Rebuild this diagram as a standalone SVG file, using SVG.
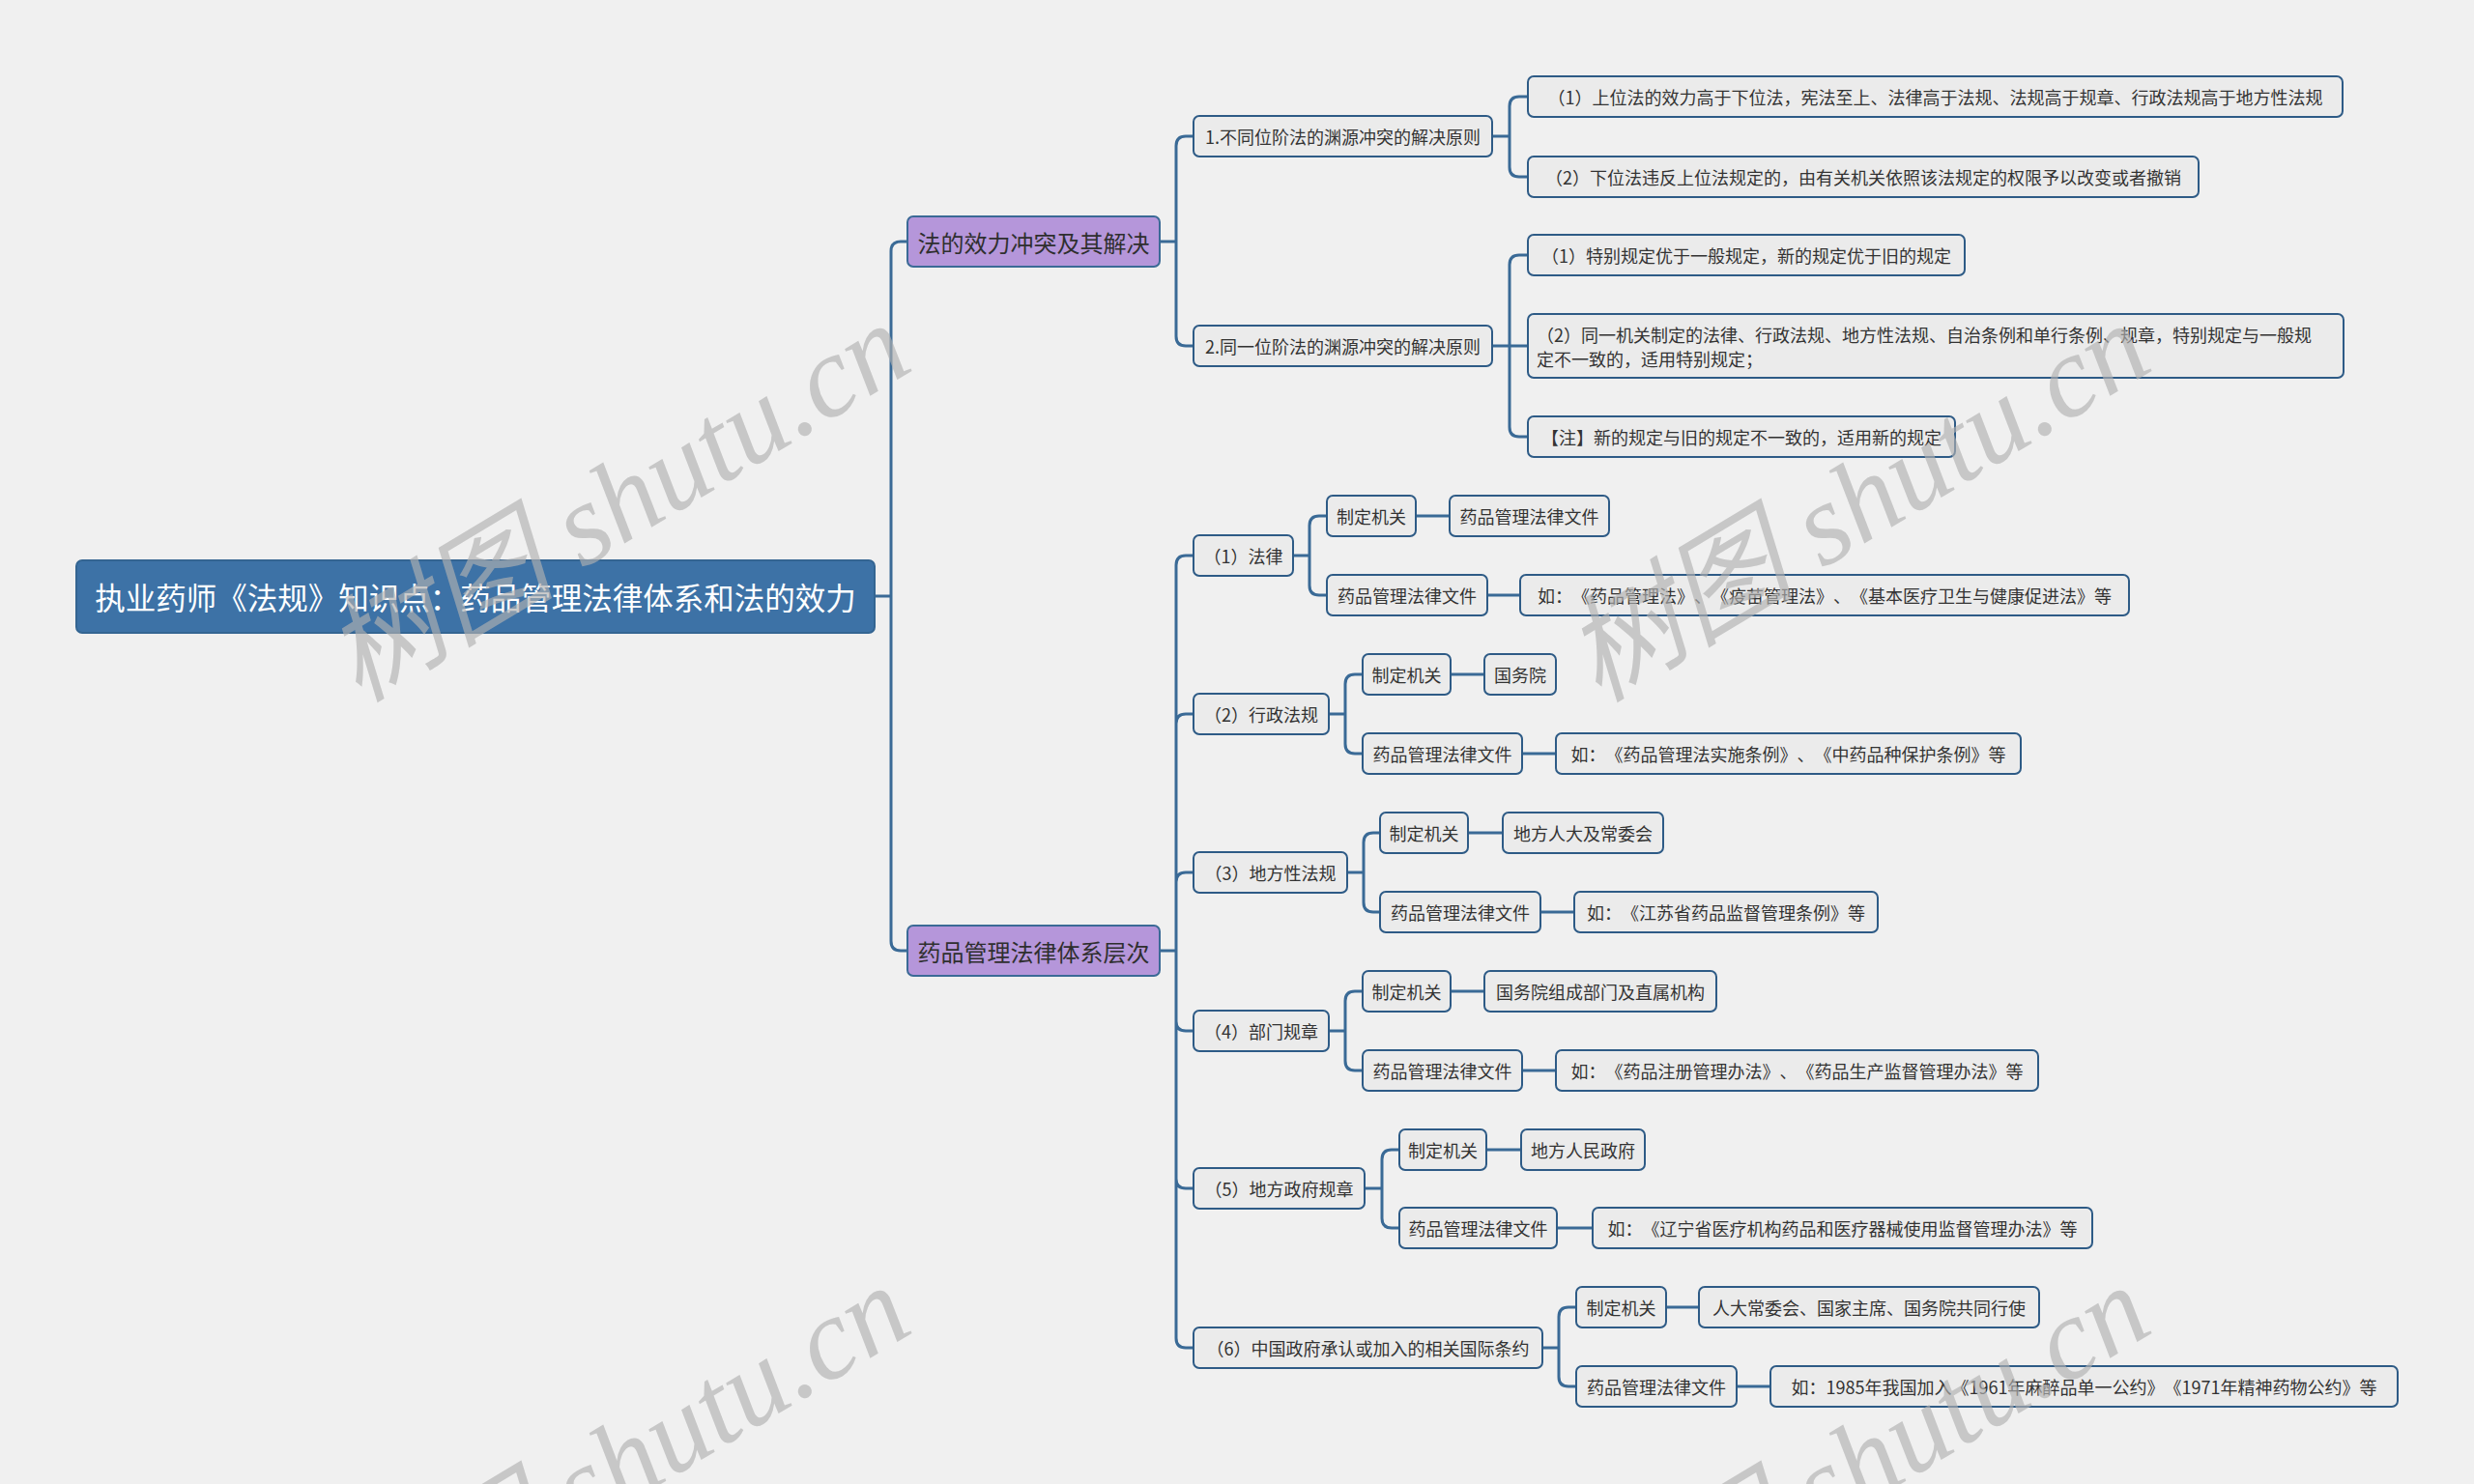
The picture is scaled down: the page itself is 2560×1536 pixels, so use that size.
<svg xmlns="http://www.w3.org/2000/svg" width="2560" height="1536" viewBox="0 0 2560 1536">
<style>
.bg{fill:#f0f0f0}
.root rect{fill:#3d72a6;stroke:#346592;stroke-width:2}
.root text{fill:#ffffff;font-size:31.5px}
.l1 rect{fill:#b596da;stroke:#3b6a96;stroke-width:2}
.l1 text{fill:#2f2f2f;font-size:24px}
.n rect{fill:#ebebeb;stroke:#2e5b86;stroke-width:2}
.n text{fill:#333333;font-size:18px}
text{font-family:"Noto Sans CJK SC","Noto Sans",sans-serif;dominant-baseline:central;text-anchor:middle;text-spacing-trim:space-all}
.c path{fill:none;stroke:#3a6a96;stroke-width:3;stroke-linecap:round}
.wm{font-family:"Liberation Serif","Noto Sans CJK SC",serif;font-style:italic;font-size:120px;fill:#b0b0b0;fill-opacity:0.65;dominant-baseline:auto}
</style>
<rect class="bg" x="0" y="0" width="2560" height="1536"/>

<g id="connectors" class="c">
<path d="M905 617H922M922 617V260Q922 250 932 250H939M922 617V974Q922 984 932 984H939"/>
<path d="M1200 250H1217M1217 250V151Q1217 141 1227 141H1235M1217 250V348Q1217 358 1227 358H1235"/>
<path d="M1544 141H1562M1562 141V110Q1562 100 1572 100H1581M1562 141V173Q1562 183 1572 183H1581"/>
<path d="M1544 358H1581M1562 358V274Q1562 264 1572 264H1581M1562 358V442Q1562 452 1572 452H1581"/>
<path d="M1200 984H1217M1217 984V585Q1217 575 1227 575H1235M1217 984V749Q1217 739 1227 739H1235M1217 984V913Q1217 903 1227 903H1235M1217 984V1057Q1217 1067 1227 1067H1235M1217 984V1220Q1217 1230 1227 1230H1235M1217 984V1385Q1217 1395 1227 1395H1235"/>
<path d="M1338 575H1355M1355 575V544Q1355 534 1365 534H1373M1355 575V606Q1355 616 1365 616H1373M1465 534H1500M1539 616H1573"/>
<path d="M1375 739H1392M1392 739V708Q1392 698 1402 698H1410M1392 739V770Q1392 780 1402 780H1410M1501 698H1536M1575 780H1610"/>
<path d="M1394 903H1411M1411 903V872Q1411 862 1421 862H1428M1411 903V934Q1411 944 1421 944H1428M1519 862H1555M1594 944H1629"/>
<path d="M1375 1067H1392M1392 1067V1036Q1392 1026 1402 1026H1410M1392 1067V1098Q1392 1108 1402 1108H1410M1501 1026H1536M1575 1108H1610"/>
<path d="M1412 1230H1430M1430 1230V1200Q1430 1190 1440 1190H1448M1430 1230V1261Q1430 1271 1440 1271H1448M1538 1190H1574M1611 1271H1648"/>
<path d="M1596 1395H1613M1613 1395V1363Q1613 1353 1623 1353H1631M1613 1395V1425Q1613 1435 1623 1435H1631M1724 1353H1758M1797 1435H1832"/>
</g>

<g id="root" class="root"><rect x="79" y="580" width="826" height="75" rx="6"/><text x="492" y="617">执业药师《法规》知识点：药品管理法律体系和法的效力</text></g>

<g id="l1a" class="l1"><rect x="939" y="224" width="261" height="52" rx="6"/><text x="1069.5" y="250">法的效力冲突及其解决</text></g>
<g id="l1b" class="l1"><rect x="939" y="958" width="261" height="52" rx="6"/><text x="1069.5" y="984">药品管理法律体系层次</text></g>

<g id="a1" class="n"><rect x="1235" y="120" width="309" height="42" rx="6"/><text x="1389.5" y="141">1.不同位阶法的渊源冲突的解决原则</text></g>
<g id="a2" class="n"><rect x="1235" y="337" width="309" height="42" rx="6"/><text x="1389.5" y="358">2.同一位阶法的渊源冲突的解决原则</text></g>

<g id="a1-1" class="n"><rect x="1581" y="79" width="843" height="42" rx="6"/><text x="2002.5" y="100">（1）上位法的效力高于下位法，宪法至上、法律高于法规、法规高于规章、行政法规高于地方性法规</text></g>
<g id="a1-2" class="n"><rect x="1581" y="162" width="694" height="42" rx="6"/><text x="1928" y="183">（2）下位法违反上位法规定的，由有关机关依照该法规定的权限予以改变或者撤销</text></g>
<g id="a2-1" class="n"><rect x="1581" y="243" width="452" height="42" rx="6"/><text x="1807" y="264">（1）特别规定优于一般规定，新的规定优于旧的规定</text></g>
<g id="a2-2" class="n"><rect x="1581" y="325" width="844" height="66" rx="6"/><text x="1590" y="346" style="text-anchor:start">（2）同一机关制定的法律、行政法规、地方性法规、自治条例和单行条例、规章，特别规定与一般规</text><text x="1590" y="371" style="text-anchor:start">定不一致的，适用特别规定；</text></g>
<g id="a2-3" class="n"><rect x="1581" y="431" width="442" height="42" rx="6"/><text x="1802" y="452">【注】新的规定与旧的规定不一致的，适用新的规定</text></g>

<g id="b1" class="n"><rect x="1235" y="554" width="103" height="42" rx="6"/><text x="1286.5" y="575">（1）法律</text></g>
<g id="b2" class="n"><rect x="1235" y="718" width="140" height="42" rx="6"/><text x="1305" y="739">（2）行政法规</text></g>
<g id="b3" class="n"><rect x="1235" y="882" width="159" height="42" rx="6"/><text x="1314.5" y="903">（3）地方性法规</text></g>
<g id="b4" class="n"><rect x="1235" y="1046" width="140" height="42" rx="6"/><text x="1305" y="1067">（4）部门规章</text></g>
<g id="b5" class="n"><rect x="1235" y="1209" width="177" height="42" rx="6"/><text x="1323.5" y="1230">（5）地方政府规章</text></g>
<g id="b6" class="n"><rect x="1235" y="1374" width="361" height="42" rx="6"/><text x="1415.5" y="1395">（6）中国政府承认或加入的相关国际条约</text></g>

<g id="b1-1" class="n"><rect x="1373" y="513" width="92" height="42" rx="6"/><text x="1419" y="534">制定机关</text></g>
<g id="b1-1a" class="n"><rect x="1500" y="513" width="165" height="42" rx="6"/><text x="1582.5" y="534">药品管理法律文件</text></g>
<g id="b1-2" class="n"><rect x="1373" y="595" width="166" height="42" rx="6"/><text x="1456" y="616">药品管理法律文件</text></g>
<g id="b1-2a" class="n"><rect x="1573" y="595" width="630" height="42" rx="6"/><text x="1888" y="616">如：《药品管理法》、《疫苗管理法》、《基本医疗卫生与健康促进法》等</text></g>

<g id="b2-1" class="n"><rect x="1410" y="677" width="91" height="42" rx="6"/><text x="1455.5" y="698">制定机关</text></g>
<g id="b2-1a" class="n"><rect x="1536" y="677" width="74" height="42" rx="6"/><text x="1573" y="698">国务院</text></g>
<g id="b2-2" class="n"><rect x="1410" y="759" width="165" height="42" rx="6"/><text x="1492.5" y="780">药品管理法律文件</text></g>
<g id="b2-2a" class="n"><rect x="1610" y="759" width="481" height="42" rx="6"/><text x="1850.5" y="780">如：《药品管理法实施条例》、《中药品种保护条例》等</text></g>

<g id="b3-1" class="n"><rect x="1428" y="841" width="91" height="42" rx="6"/><text x="1473.5" y="862">制定机关</text></g>
<g id="b3-1a" class="n"><rect x="1555" y="841" width="166" height="42" rx="6"/><text x="1638" y="862">地方人大及常委会</text></g>
<g id="b3-2" class="n"><rect x="1428" y="923" width="166" height="42" rx="6"/><text x="1511" y="944">药品管理法律文件</text></g>
<g id="b3-2a" class="n"><rect x="1629" y="923" width="314" height="42" rx="6"/><text x="1786" y="944">如：《江苏省药品监督管理条例》等</text></g>

<g id="b4-1" class="n"><rect x="1410" y="1005" width="91" height="42" rx="6"/><text x="1455.5" y="1026">制定机关</text></g>
<g id="b4-1a" class="n"><rect x="1536" y="1005" width="240" height="42" rx="6"/><text x="1656" y="1026">国务院组成部门及直属机构</text></g>
<g id="b4-2" class="n"><rect x="1410" y="1087" width="165" height="42" rx="6"/><text x="1492.5" y="1108">药品管理法律文件</text></g>
<g id="b4-2a" class="n"><rect x="1610" y="1087" width="499" height="42" rx="6"/><text x="1859.5" y="1108">如：《药品注册管理办法》、《药品生产监督管理办法》等</text></g>

<g id="b5-1" class="n"><rect x="1448" y="1169" width="90" height="42" rx="6"/><text x="1493" y="1190">制定机关</text></g>
<g id="b5-1a" class="n"><rect x="1574" y="1169" width="128" height="42" rx="6"/><text x="1638" y="1190">地方人民政府</text></g>
<g id="b5-2" class="n"><rect x="1448" y="1250" width="163" height="42" rx="6"/><text x="1529.5" y="1271">药品管理法律文件</text></g>
<g id="b5-2a" class="n"><rect x="1648" y="1250" width="517" height="42" rx="6"/><text x="1906.5" y="1271">如：《辽宁省医疗机构药品和医疗器械使用监督管理办法》等</text></g>

<g id="b6-1" class="n"><rect x="1631" y="1332" width="93" height="42" rx="6"/><text x="1677.5" y="1353">制定机关</text></g>
<g id="b6-1a" class="n"><rect x="1758" y="1332" width="352" height="42" rx="6"/><text x="1934" y="1353">人大常委会、国家主席、国务院共同行使</text></g>
<g id="b6-2" class="n"><rect x="1631" y="1414" width="166" height="42" rx="6"/><text x="1714" y="1435">药品管理法律文件</text></g>
<g id="b6-2a" class="n"><rect x="1832" y="1414" width="649" height="42" rx="6"/><text x="2156.5" y="1435">如：1985年我国加入《1961年麻醉品单一公约》《1971年精神药物公约》等</text></g>

<g id="watermarks">
<text class="wm" x="640" y="560" transform="rotate(-31 640 522)">树图 shutu.cn</text>
<text class="wm" x="1923" y="560" transform="rotate(-31 1923 522)">树图 shutu.cn</text>
<text class="wm" x="640" y="1556" transform="rotate(-31 640 1518)">树图 shutu.cn</text>
<text class="wm" x="1923" y="1556" transform="rotate(-31 1923 1518)">树图 shutu.cn</text>
</g>
</svg>
